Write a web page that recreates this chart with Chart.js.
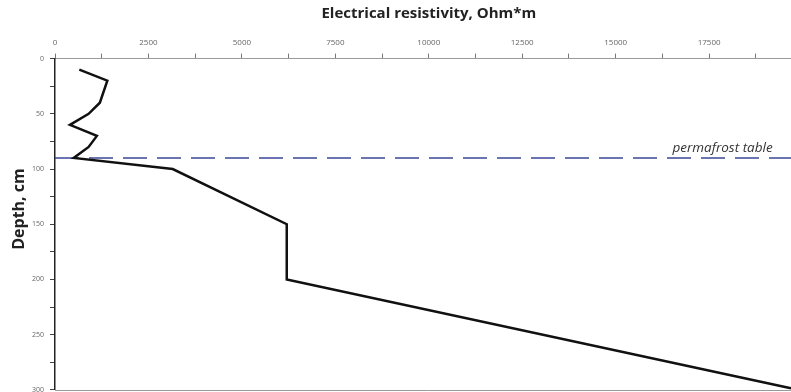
<!DOCTYPE html>
<html><head><meta charset="utf-8">
<script src="https://cdn.jsdelivr.net/npm/chart.js@4/dist/chart.umd.min.js"></script>
<style>
html,body{margin:0;padding:0;background:#fff;overflow:hidden;width:791px;height:392px;}
#wrap{position:absolute;left:0;top:0;width:820px;height:400px;}
</style></head>
<body>
<div id="wrap"><canvas id="c" width="820" height="400"></canvas></div>
<script>
// Resistivity profile (Ohm*m) vs depth (cm)
const depths      = [10, 20, 40, 50, 60, 70, 80, 90, 100, 150, 200, 299];
const resistivity = [650, 1400, 1200, 900, 400, 1120, 900, 500, 3150, 6200, 6200, 19750];
const permafrostDepth = 90;
const permafrostLabel = 'permafrost table';
const xTitle = 'Electrical resistivity, Ohm*m';
const yTitle = 'Depth, cm';

const profile = depths.map((d, i) => ({x: resistivity[i], y: d}));
const tableLine = [{x: 0, y: permafrostDepth}, {x: 20000, y: permafrostDepth}];

const FONT = "'Open Sans', 'Liberation Sans', sans-serif";

const decor = {
  id: 'decor',
  afterDraw(chart) {
    const {ctx, chartArea: a, scales: {x, y}} = chart;
    ctx.save();
    ctx.strokeStyle = '#9a9a9a';
    ctx.lineWidth = 1;
    ctx.beginPath();
    ctx.moveTo(a.left, Math.round(a.bottom) + 0.5);
    ctx.lineTo(a.right, Math.round(a.bottom) + 0.5);
    ctx.stroke();
    ctx.fillStyle = '#333';
    ctx.font = "italic 13.5px " + FONT;
    ctx.textAlign = 'right';
    ctx.textBaseline = 'bottom';
    ctx.fillText(permafrostLabel, x.getPixelForValue(19200), y.getPixelForValue(permafrostDepth) - 3);
    ctx.translate(19, 209);
    ctx.rotate(-Math.PI / 2);
    ctx.textAlign = 'center';
    ctx.textBaseline = 'middle';
    ctx.fillStyle = '#222';
    ctx.font = "bold 16px " + FONT;
    ctx.fillText(yTitle, 0, 0);
    ctx.restore();
  }
};

new Chart(document.getElementById('c'), {
  type: 'scatter',
  data: {
    datasets: [
      {data: profile, showLine: true, borderColor: '#111', borderWidth: 2.5, pointRadius: 0, tension: 0, order: 1},
      {data: tableLine, showLine: true, borderColor: '#3a4796', borderWidth: 1.6, borderDash: [24, 10], pointRadius: 0, order: 2}
    ]
  },
  options: {
    responsive: false,
    animation: false,
    layout: {padding: {left: 0, right: 10, top: 5, bottom: 3}},
    plugins: {legend: {display: false}, tooltip: {enabled: false}},
    scales: {
      x: {
        type: 'linear', position: 'top', min: 0, max: 20000,
        ticks: {
          stepSize: 1250, autoSkip: false, maxRotation: 0, padding: 6,
          color: '#666', font: {size: 8, family: FONT},
          callback: v => (v % 2500 === 0 ? String(v) : '')
        },
        grid: {display: true, drawOnChartArea: false, tickLength: 5, tickColor: '#777'},
        border: {display: true, color: '#9a9a9a', width: 1},
        title: {display: true, text: xTitle, color: '#222', font: {size: 15, weight: 'bold', family: FONT}, padding: {top: 0, bottom: 9}}
      },
      y: {
        type: 'linear', reverse: true, min: 0, max: 300,
        afterFit: s => { s.width = 55; },
        ticks: {
          stepSize: 25, autoSkip: false, padding: 6,
          color: '#666', font: {size: 7, family: FONT},
          callback: v => (v % 50 === 0 ? String(v) : '')
        },
        grid: {display: true, drawOnChartArea: false, tickLength: 5, tickColor: '#444'},
        border: {display: true, color: '#222', width: 1.5},
        title: {display: false}
      }
    }
  },
  plugins: [decor]
});
</script>
</body></html>
